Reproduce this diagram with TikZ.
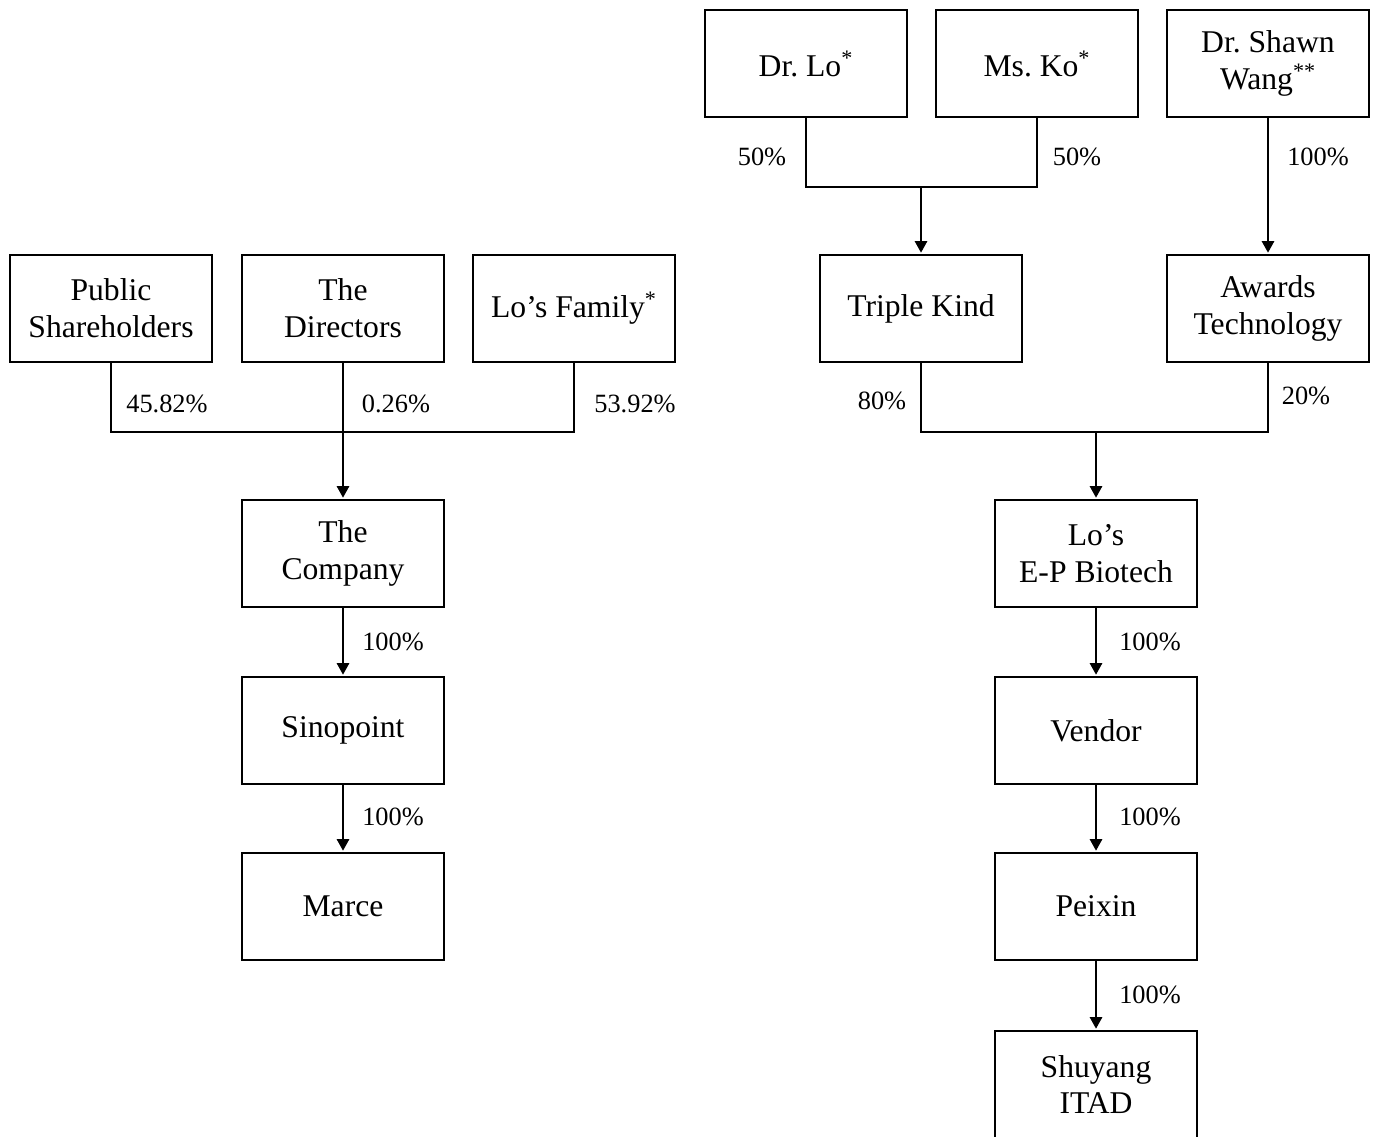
\documentclass[tikz,border=0pt]{standalone}
\usepackage{fontspec}
\setmainfont{Liberation Serif}
\usepackage{tikz}
\usetikzlibrary{arrows, arrows.meta}
\frenchspacing
\tikzstyle{box} = [draw, line width=0.7pt, minimum width=4.04cm, minimum height=2.14cm, align=center, font=\fontsize{18}{21}\selectfont, inner sep=2pt]
\tikzstyle{pct} = [font=\fontsize{15}{18}\selectfont]
\tikzstyle{arrow} = [line width=0.7pt,->,>={Triangle[length=2.3mm,width=2.5mm]}, shorten >=1pt]
\tikzstyle{line} = [line width=0.7pt]

\begin{document}
\begin{tikzpicture}
\useasboundingbox (0,0) rectangle (27.52,-22.72);
% left side: the company
\node[box] (pub) at (2.22,-6.17) {Public\\Shareholders};
\node[box] (dir) at (6.86,-6.17) {The\\Directors};
\node[box] (fam) at (11.48,-6.17) {Lo’s Family\textsuperscript{*}};
\node[box] (comp) at (6.86,-11.07) {The\\Company};
\node[box] (sino) at (6.86,-14.61) {Sinopoint};
\node[box] (marce) at (6.86,-18.13) {Marce};
\coordinate (jl) at (6.86,-8.64);
\draw[line] (pub.south) |- (jl);
\draw[line] (fam.south) |- (jl);
\draw[arrow] (dir.south) -- (comp.north);
\draw[arrow] (comp.south) -- (sino.north);
\draw[arrow] (sino.south) -- (marce.north);
\node[pct] (p1) at (3.34,-8.08) {45.82\%};
\node[pct] (p2) at (7.92,-8.08) {0.26\%};
\node[pct] (p3) at (12.7,-8.08) {53.92\%};
\node[pct] (p4) at (7.86,-12.84) {100\%};
\node[pct] (p5) at (7.86,-16.34) {100\%};
% right side: the target group
\node[box] (drlo) at (16.12,-1.27) {Dr. Lo\textsuperscript{*}};
\node[box] (msko) at (20.74,-1.27) {Ms. Ko\textsuperscript{*}};
\node[box] (wang) at (25.36,-1.27) {Dr. Shawn\\Wang\textsuperscript{**}};
\node[box] (triple) at (18.42,-6.17) {Triple Kind};
\node[box] (awards) at (25.36,-6.17) {Awards\\Technology};
\node[box] (eptech) at (21.92,-11.07) {Lo’s\\E-P Biotech};
\node[box] (vendor) at (21.92,-14.61) {Vendor};
\node[box] (peixin) at (21.92,-18.13) {Peixin};
\node[box] (shuyang) at (21.92,-21.69) {Shuyang\\ITAD};
\coordinate (jt) at (18.42,-3.74);
\coordinate (jr) at (21.92,-8.64);
\draw[line] (drlo.south) |- (jt);
\draw[line] (msko.south) |- (jt);
\draw[arrow] (jt) -- (triple.north);
\draw[arrow] (wang.south) -- (awards.north);
\draw[line] (triple.south) |- (jr);
\draw[line] (awards.south) |- (jr);
\draw[arrow] (jr) -- (eptech.north);
\draw[arrow] (eptech.south) -- (vendor.north);
\draw[arrow] (vendor.south) -- (peixin.north);
\draw[arrow] (peixin.south) -- (shuyang.north);
\node[pct] (q1) at (15.24,-3.14) {50\%};
\node[pct] (q2) at (21.54,-3.14) {50\%};
\node[pct] (q3) at (26.36,-3.14) {100\%};
\node[pct] (q4) at (17.64,-8.02) {80\%};
\node[pct] (q5) at (26.12,-7.92) {20\%};
\node[pct] (q6) at (23.0,-12.84) {100\%};
\node[pct] (q7) at (23.0,-16.34) {100\%};
\node[pct] (q8) at (23.0,-19.9) {100\%};
\end{tikzpicture}
\end{document}
